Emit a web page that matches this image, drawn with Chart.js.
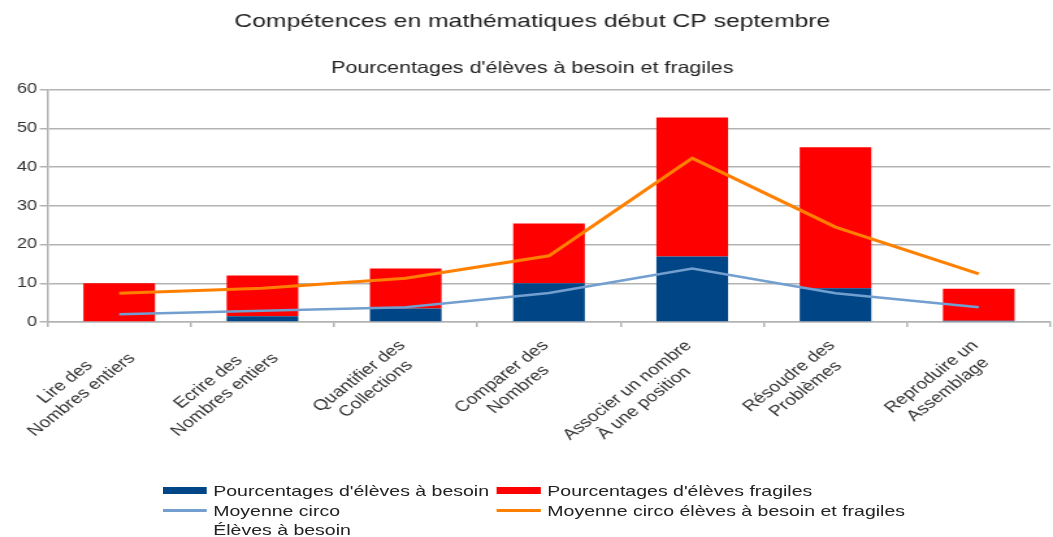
<!DOCTYPE html>
<html>
<head>
<meta charset="utf-8">
<script src="https://cdn.jsdelivr.net/npm/chart.js@4"></script>
<style>
  body { margin: 0; background: #fff; }
  #wrap { position: relative; width: 810px; height: 537px; transform: scaleX(1.3); transform-origin: 0 0; }
  .leg { position: absolute; font: 15px "Liberation Sans", Arial, sans-serif; color: #222; line-height: 20px; white-space: nowrap; }
  .sw { position: absolute; width: 34px; }
</style>
</head>
<body>
<div id="wrap">
  <canvas id="barChart" width="810" height="537"></canvas>
  <!-- legende faite a la main (libellé sur deux lignes) -->
  <div class="sw" style="left:125px;top:487px;height:7px;background:#004586"></div>
  <div class="leg" style="left:164px;top:481px">Pourcentages d'élèves à besoin</div>
  <div class="sw" style="left:382px;top:487px;height:7px;background:#ff0000"></div>
  <div class="leg" style="left:421px;top:481px">Pourcentages d'élèves fragiles</div>
  <div class="sw" style="left:125px;top:509px;height:3px;background:#729fcf"></div>
  <div class="leg" style="left:164px;top:501px">Moyenne circo</div>
  <div class="sw" style="left:382px;top:509px;height:3px;background:#ff8000"></div>
  <div class="leg" style="left:421px;top:501px">Moyenne circo élèves à besoin et fragiles</div>
  <div class="leg" style="left:164px;top:520px">Élèves à besoin</div>
</div>
<script>
const categories = [
  ['Lire des', 'Nombres entiers'],
  ['Ecrire des', 'Nombres entiers'],
  ['Quantifier des', 'Collections'],
  ['Comparer des', 'Nombres'],
  ['Associer un nombre', 'À une position'],
  ['Résoudre des', 'Problèmes'],
  ['Reproduire un', 'Assemblage']
];
const besoin = [0, 1.5, 3.5, 10, 16.9, 8.7, 0.3];
const fragiles = [10, 10.5, 10.3, 15.4, 35.9, 36.4, 8.3];
const moyenneBesoin = [2.0, 2.9, 3.8, 7.5, 13.8, 7.4, 3.8];
const moyenneTotal = [7.4, 8.7, 11.3, 17.1, 42.3, 24.5, 12.4];
const yTicks = [0, 10, 20, 30, 40, 50, 60];

const font = 'Liberation Sans';

// etiquettes de l'axe x : tournées, lignes centrées comme dans LibreOffice
const xLabels = {
  id: 'xLabels',
  afterDraw(chart) {
    const c = chart.ctx;
    const xs = chart.scales.x;
    const lh = 18;
    c.save();
    c.font = '15px ' + font;
    c.fillStyle = '#333';
    c.textAlign = 'center';
    c.textBaseline = 'top';
    chart.data.labels.forEach((lines, i) => {
      const w = Math.max(...lines.map(l => c.measureText(l).width));
      c.save();
      c.translate(xs.getPixelForTick(i) - 8, xs.top + 16);
      c.rotate(-Math.PI / 4);
      lines.forEach((l, j) => c.fillText(l, -w / 2, j * lh));
      c.restore();
    });
    c.restore();
  }
};

const ctx = document.getElementById('barChart').getContext('2d');

new Chart(ctx, {
  type: 'bar',
  data: {
    labels: categories,
    datasets: [
      {
        type: 'line',
        label: 'Moyenne circo Élèves à besoin',
        data: moyenneBesoin,
        borderColor: '#729fcf',
        borderWidth: 2.5,
        pointRadius: 0,
        tension: 0,
        stack: 'l1',
        order: 0
      },
      {
        type: 'line',
        label: 'Moyenne circo élèves à besoin et fragiles',
        data: moyenneTotal,
        borderColor: '#ff8000',
        borderWidth: 3,
        pointRadius: 0,
        tension: 0,
        stack: 'l2',
        order: 0
      },
      {
        label: "Pourcentages d'élèves à besoin",
        data: besoin,
        backgroundColor: '#004586',
        stack: 'bars',
        order: 1
      },
      {
        label: "Pourcentages d'élèves fragiles",
        data: fragiles,
        backgroundColor: '#ff0000',
        stack: 'bars',
        order: 1
      }
    ]
  },
  options: {
    responsive: false,
    animation: false,
    layout: { padding: { left: 11, right: 2, bottom: 210 } },
    datasets: { bar: { barPercentage: 0.5, categoryPercentage: 1 } },
    plugins: {
      legend: { display: false },
      tooltip: { enabled: false },
      title: {
        display: true,
        text: 'Compétences en mathématiques début CP septembre',
        color: '#222',
        font: { family: font, size: 19, weight: 'normal' },
        padding: { top: 10, bottom: 0 }
      },
      subtitle: {
        display: true,
        text: "Pourcentages d'élèves à besoin et fragiles",
        color: '#222',
        font: { family: font, size: 16.5 },
        padding: { top: 26, bottom: 11 }
      }
    },
    scales: {
      x: {
        stacked: true,
        grid: { offset: true, drawOnChartArea: false, drawTicks: true, tickLength: 5, color: '#b3b3b3', lineWidth: 1.5 },
        border: { color: '#b3b3b3', width: 1.5 },
        ticks: { display: false }
      },
      y: {
        stacked: true,
        min: 0,
        max: 60,
        afterBuildTicks: axis => { axis.ticks = yTicks.map(v => ({ value: v })); },
        grid: { color: '#b3b3b3', lineWidth: 1.5, tickLength: 6 },
        border: { color: '#b3b3b3', width: 1.5 },
        ticks: { color: '#333', font: { family: font, size: 14 }, padding: 2 }
      }
    }
  },
  plugins: [xLabels]
});
</script>
</body>
</html>
